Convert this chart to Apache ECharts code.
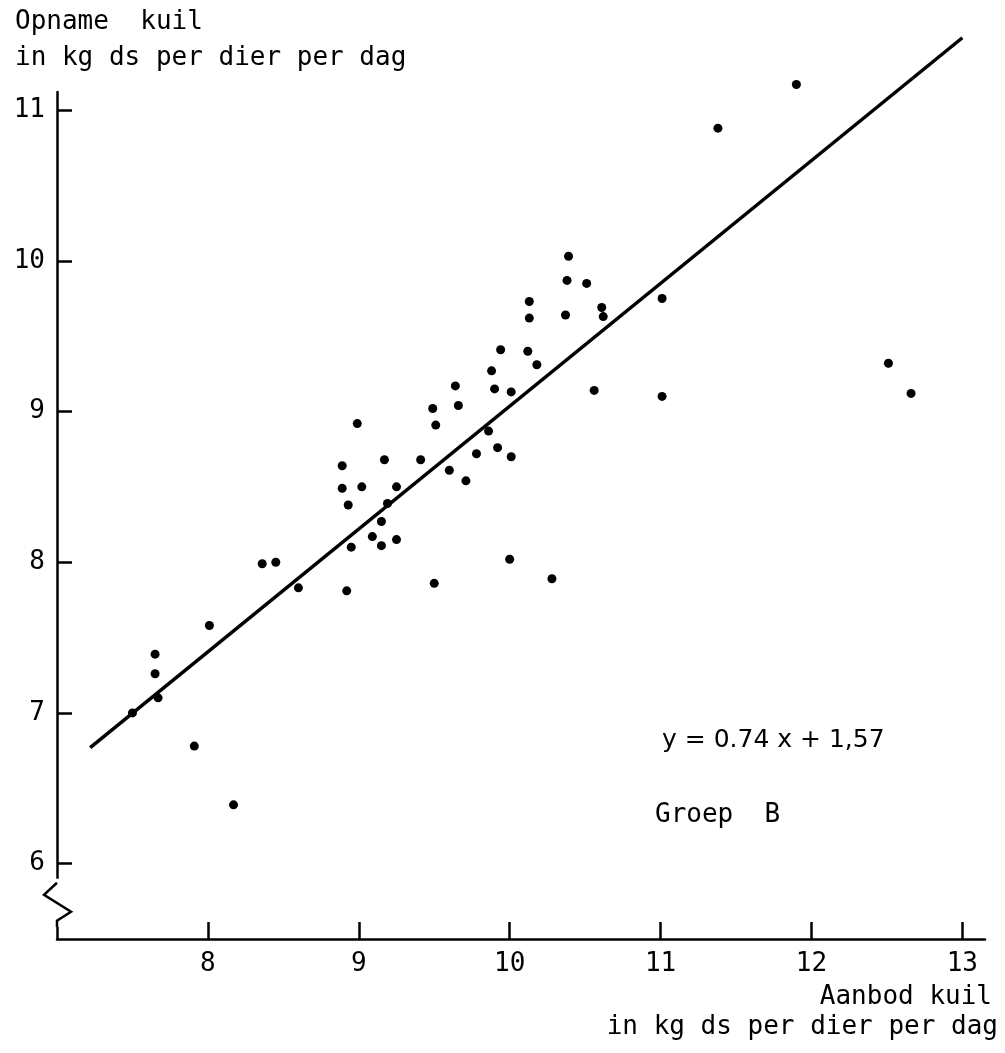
<!DOCTYPE html>
<html>
<head>
<meta charset="utf-8">
<script src="https://cdn.jsdelivr.net/npm/echarts@6/dist/echarts.min.js"></script>
<style>
  html, body { margin: 0; padding: 0; background: #fff; }
  #chart { width: 1005px; height: 1053px; }
</style>
</head>
<body>
<div id="chart"></div>
<script>
// aanbod (x) en opname (y) kuil, kg ds per dier per dag
const aanbod = [
  7.65, 7.65, 7.67, 7.50, 7.91, 8.17, 8.01, 8.36, 8.45, 8.60,
  9.64, 9.90, 10.01, 9.49, 9.66, 8.99, 9.51, 9.86, 9.17, 9.41,
  9.78, 9.92, 10.01, 8.89, 8.89, 9.02, 9.25, 9.60, 9.71, 8.93,
  9.19, 9.15, 9.09, 9.15, 9.25, 8.95, 8.92, 9.50, 10.00, 10.28,
  10.39, 10.38, 10.51, 10.13, 10.13, 10.37, 10.61, 10.62, 9.94, 10.12,
  10.18, 9.88, 10.56, 11.90, 11.38, 11.01, 12.51, 12.66, 11.01
]
const opname = [
  7.39, 7.26, 7.10, 7.00, 6.78, 6.39, 7.58, 7.99, 8.00, 7.83,
  9.17, 9.15, 9.13, 9.02, 9.04, 8.92, 8.91, 8.87, 8.68, 8.68,
  8.72, 8.76, 8.70, 8.64, 8.49, 8.50, 8.50, 8.61, 8.54, 8.38,
  8.39, 8.27, 8.17, 8.11, 8.15, 8.10, 7.81, 7.86, 8.02, 7.89,
  10.03, 9.87, 9.85, 9.73, 9.62, 9.64, 9.69, 9.63, 9.41, 9.40,
  9.31, 9.27, 9.14, 11.17, 10.88, 9.75, 9.32, 9.12, 9.10
]

// regressielijn zoals getekend
const lijnX = [7.22, 13.0]
const lijnY = [6.77, 11.48]

const xTicks = [8, 9, 10, 11, 12, 13]
const yTicks = [6, 7, 8, 9, 10, 11]

const chart = echarts.init(document.getElementById('chart'))
const font = 'DejaVu Sans Mono'

const option = {
  backgroundColor: '#fff',
  animation: false,
  grid: { left: 57, right: 20, top: 92, bottom: 114 },
  xAxis: {
    type: 'value',
    min: 7,
    max: 13.15,
    axisLine: { lineStyle: { color: '#000', width: 2.5 } },
    axisTick: { inside: true, length: 17, customValues: xTicks, lineStyle: { color: '#000', width: 2.5 } },
    axisLabel: { customValues: xTicks, margin: 12, color: '#000', fontSize: 26, fontFamily: font },
    splitLine: { show: false }
  },
  yAxis: {
    type: 'value',
    min: 5.5,
    max: 11.12,
    axisLine: { show: true, lineStyle: { color: '#000', width: 2.5 } },
    axisTick: { show: true, inside: true, length: 15, customValues: yTicks, lineStyle: { color: '#000', width: 2.5 } },
    axisLabel: { customValues: yTicks, margin: 12, color: '#000', fontSize: 26, fontFamily: font },
    splitLine: { show: false }
  },
  series: [
    {
      type: 'line',
      data: lijnX.map((x, i) => [x, lijnY[i]]),
      showSymbol: false,
      clip: false,
      lineStyle: { color: '#000', width: 3.5 },
      z: 2
    },
    {
      type: 'scatter',
      data: aanbod.map((x, i) => [x, opname[i]]),
      symbolSize: 9,
      clip: false,
      itemStyle: { color: '#000', opacity: 1 },
      z: 3
    }
  ]
}

chart.setOption(option)

// asbreuk en teksten
const ax = chart.convertToPixel({ gridIndex: 0 }, [7, 5.9])
const bx = chart.convertToPixel({ gridIndex: 0 }, [7, 5.58])
const x0 = ax[0], yTop = ax[1], yBot = bx[1]

const txt = (text, x, y, align, family) => ({
  type: 'text', x: x, y: y,
  style: {
    text: text, fill: '#000', font: '26px "' + (family || font) + '"',
    textAlign: align || 'left', textVerticalAlign: 'middle'
  }
})

chart.setOption({
  graphic: [
    { type: 'rect', shape: { x: x0 - 3, y: yTop, width: 6, height: yBot - yTop }, style: { fill: '#fff' }, z: 10 },
    {
      type: 'polyline',
      shape: { points: [[x0, yTop + 4], [x0 - 13, yTop + 16], [x0 + 14, yTop + 33], [x0, yTop + 42], [x0, yBot]] },
      style: { stroke: '#000', lineWidth: 2.5, fill: null },
      z: 11
    },
    txt('Opname  kuil', 15, 22),
    txt('in kg ds per dier per dag', 15, 58),
    txt('Aanbod kuil', 992, 997, 'right'),
    txt('in kg ds per dier per dag', 998, 1027, 'right'),
    {
      type: 'text', x: 662, y: 740,
      style: { text: 'y = 0.74 x + 1,57', fill: '#000', font: '25px "DejaVu Sans"', textVerticalAlign: 'middle' }
    },
    txt('Groep  B', 655, 815)
  ]
})
</script>
</body>
</html>
